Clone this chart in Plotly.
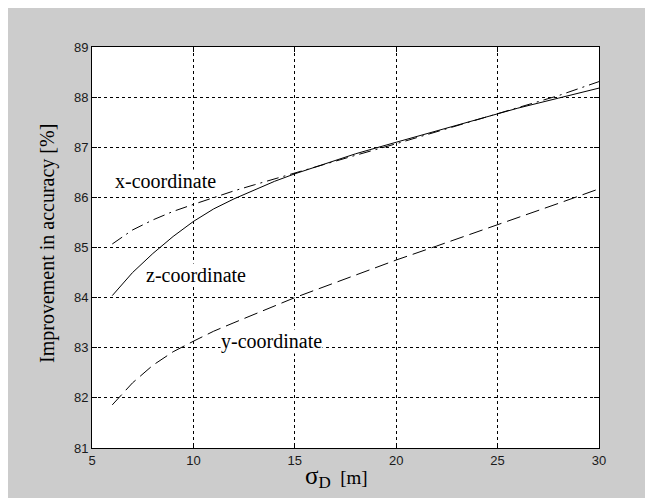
import plotly.graph_objects as go

sigma_d = [6, 7, 8, 9, 10, 11, 12, 13, 14, 15, 16, 18, 20, 22, 24, 26, 28, 30]
z_coord = [84.04, 84.50, 84.88, 85.22, 85.52, 85.77, 85.97, 86.15, 86.32, 86.47,
           86.60, 86.87, 87.10, 87.33, 87.56, 87.78, 87.98, 88.18]
x_coord = [85.07, 85.35, 85.55, 85.72, 85.86, 86.00, 86.13, 86.25, 86.37, 86.48,
           86.60, 86.84, 87.07, 87.31, 87.55, 87.79, 88.03, 88.31]
y_coord = [81.86, 82.30, 82.65, 82.92, 83.13, 83.33, 83.50, 83.67, 83.84, 84.00,
           84.15, 84.45, 84.75, 85.03, 85.31, 85.60, 85.88, 86.17]
x_ticks = [5, 10, 15, 20, 25, 30]
y_ticks = [81, 82, 83, 84, 85, 86, 87, 88, 89]

W, H = 653, 498
L, R, T, B = 84, 62, 39, 58
pw, ph = W - L - R, H - T - B

fig = go.Figure()
fig.add_trace(go.Scatter(x=sigma_d, y=z_coord, mode="lines",
                         line=dict(color="black", width=1), name="z-coordinate"))
fig.add_trace(go.Scatter(x=sigma_d, y=x_coord, mode="lines",
                         line=dict(color="black", width=1, dash="12px,5px,2px,5px"),
                         name="x-coordinate"))
fig.add_trace(go.Scatter(x=sigma_d, y=y_coord, mode="lines",
                         line=dict(color="black", width=1, dash="14px,6px"),
                         name="y-coordinate"))

serif = "Liberation Serif, Times New Roman, serif"
ann_font = dict(family=serif, size=20, color="black")
fig.add_annotation(x=8.6, y=86.33, text="x-coordinate", showarrow=False,
                   font=ann_font, bgcolor="white", borderpad=0)
fig.add_annotation(x=10.13, y=84.45, text="z-coordinate", showarrow=False,
                   font=ann_font, bgcolor="white", borderpad=0)
fig.add_annotation(x=13.83, y=83.12, text="y-coordinate", showarrow=False,
                   font=ann_font, bgcolor="white", borderpad=0)

# x-axis title
fig.add_annotation(xref="paper", yref="paper", x=(336 - 92) / pw, y=-(477 - 448) / ph,
                   yanchor="middle", xanchor="center", showarrow=False,
                   text="<span style='font-size:25px'>σ</span><sub><span style='font-size:17px'>D</span></sub>&nbsp;&nbsp;[m]",
                   font=dict(family=serif, size=19, color="black"))
# y-axis title
fig.add_annotation(xref="paper", yref="paper", x=-(92 - 47) / pw, y=(448 - 244) / ph,
                   xanchor="center", yanchor="middle", textangle=-90, showarrow=False,
                   text="Improvement in accuracy [%]",
                   font=dict(family=serif, size=20, color="black"))

tick_font = dict(family="Liberation Sans, Arial, sans-serif", size=13, color="#1a1a1a")
fig.update_xaxes(range=[5, 30], tickvals=x_ticks, ticktext=[str(v) for v in x_ticks],
                 showgrid=True, gridcolor="black", griddash="dot", gridwidth=1,
                 showline=True, linecolor="black", linewidth=1, mirror="ticks",
                 ticks="inside", ticklen=5, tickcolor="black", tickfont=tick_font,
                 zeroline=False)
fig.update_yaxes(range=[81, 89], tickvals=y_ticks, ticktext=[str(v) for v in y_ticks],
                 showgrid=True, gridcolor="black", griddash="dot", gridwidth=1,
                 showline=True, linecolor="black", linewidth=1, mirror="ticks",
                 ticks="inside", ticklen=5, tickcolor="black", tickfont=tick_font,
                 zeroline=False)
fig.update_layout(width=W, height=H, margin=dict(l=L, r=R, t=T, b=B, pad=0),
                  paper_bgcolor="#cccccc", plot_bgcolor="white", showlegend=False)
fig.write_html("out.html")
